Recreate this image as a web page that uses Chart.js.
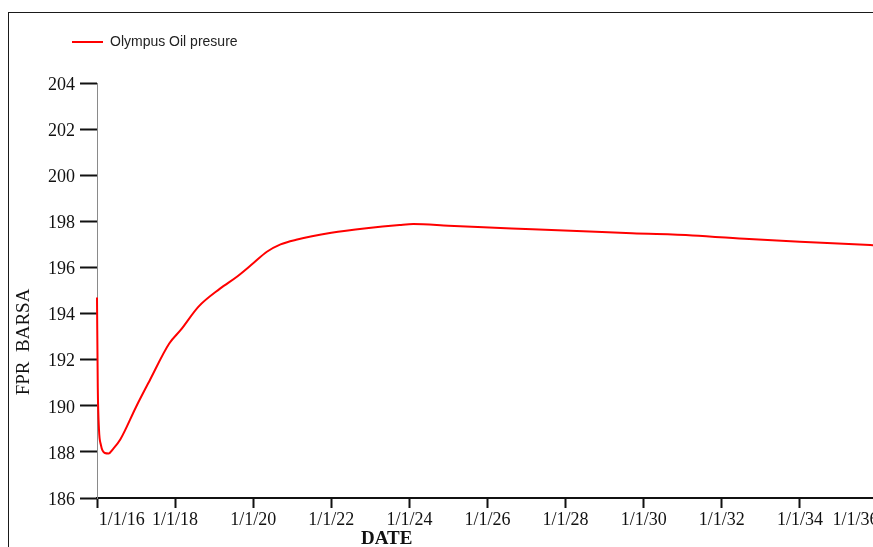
<!DOCTYPE html>
<html>
<head>
<meta charset="utf-8">
<title>Olympus Oil presure</title>
<script src="https://cdn.jsdelivr.net/npm/chart.js@4.4.1/dist/chart.umd.min.js"></script>
<style>
  html, body { margin: 0; padding: 0; background: #fff; overflow: hidden; width: 873px; height: 547px; }
  #frame { position: absolute; left: 8px; top: 12px; width: 900px; height: 600px;
           border-top: 1px solid #1a1a1a; border-left: 1px solid #1a1a1a; box-sizing: border-box; }
  #chart { position: absolute; left: 0; top: 0; }
</style>
</head>
<body>
<div id="frame"></div>
<canvas id="chart" width="890" height="560"></canvas>
<script>
// Field pressure over time (decimal years) for the Olympus oil case
const seriesName = 'Olympus Oil presure';
const years = [2016.00, 2016.02, 2016.05, 2016.10, 2016.20, 2016.30, 2016.40, 2016.60,
               2017.00, 2017.35, 2017.85, 2018.15, 2018.60, 2019.15, 2019.60, 2020.00,
               2020.35, 2020.70, 2021.10, 2022.00, 2022.90, 2023.75, 2024.10, 2025.00,
               2025.90, 2027.15, 2028.45, 2029.70, 2031.25, 2032.70, 2034.00, 2035.80, 2036.00];
const pressure = [194.70, 190.80, 189.00, 188.30, 187.95, 187.93, 188.10, 188.55,
                  189.95, 191.10, 192.70, 193.30, 194.30, 195.08, 195.62, 196.18,
                  196.68, 197.00, 197.20, 197.50, 197.70, 197.84, 197.88, 197.81,
                  197.74, 197.66, 197.57, 197.48, 197.39, 197.23, 197.11, 196.97, 196.95];

const xTickYears = [2016, 2018, 2020, 2022, 2024, 2026, 2028, 2030, 2032, 2034, 2036];
const xTickLabels = ['1/1/16', '1/1/18', '1/1/20', '1/1/22', '1/1/24', '1/1/26',
                     '1/1/28', '1/1/30', '1/1/32', '1/1/34', '1/1/36'];
const yTickValues = [186, 188, 190, 192, 194, 196, 198, 200, 202, 204];

const xTitle = 'DATE';
const yTitle = 'FPR  BARSA';

// Axis captions placed along the plot edges
const axisCaptions = {
  id: 'axisCaptions',
  afterDraw(chart) {
    const { ctx, chartArea: a } = chart;
    ctx.save();
    ctx.fillStyle = '#111';
    ctx.textAlign = 'center';
    ctx.textBaseline = 'middle';
    ctx.font = 'bold 19px "Liberation Serif"';
    ctx.fillText(xTitle, a.left + (a.right - a.left) * 0.371, a.bottom + 41);
    ctx.translate(a.left - 72.5, a.top + (a.bottom - a.top) * 0.624);
    ctx.rotate(-Math.PI / 2);
    ctx.font = '19px "Liberation Serif"';
    ctx.fillText(yTitle, 0, 0);
    ctx.restore();
  }
};

// Extra space between the legend row and the plot
const legendGap = {
  id: 'legendGap',
  beforeInit(chart) {
    const fit = chart.legend.fit;
    chart.legend.fit = function () {
      fit.call(this);
      this.height += 24;
    };
  }
};

const tickFont = { family: 'Liberation Serif', size: 18 };

new Chart(document.getElementById('chart'), {
  type: 'line',
  data: {
    datasets: [{
      label: seriesName,
      data: years.map((x, i) => ({ x, y: pressure[i] })),
      borderColor: '#ff0000',
      backgroundColor: '#ff0000',
      borderWidth: 2,
      pointRadius: 0,
      cubicInterpolationMode: 'monotone',
      fill: false,
      clip: false
    }]
  },
  options: {
    responsive: false,
    animation: false,
    devicePixelRatio: 1,
    layout: { padding: { left: 40, top: 3, right: 12, bottom: 0 } },
    plugins: {
      legend: {
        position: 'top',
        align: 'start',
        labels: {
          usePointStyle: true,
          pointStyle: 'line',
          pointStyleWidth: 31,
          padding: 32,
          color: '#222',
          font: { family: 'Liberation Sans', size: 14 }
        }
      },
      tooltip: { enabled: false }
    },
    scales: {
      x: {
        type: 'linear',
        min: xTickYears[0],
        max: xTickYears[xTickYears.length - 1],
        afterBuildTicks: s => { s.ticks = xTickYears.map(v => ({ value: v })); },
        afterFit: s => { s.paddingLeft = 0; s.paddingRight = 0; s.height = 62; },
        ticks: {
          autoSkip: false,
          maxRotation: 0,
          minRotation: 0,
          padding: 1,
          color: '#111',
          font: tickFont,
          callback: (v, i, all) => {
            const label = xTickLabels[xTickYears.indexOf(v)];
            // end labels are kept inside the axis span
            if (i === 0) return ' '.repeat(11) + label;
            if (i === all.length - 1) return label + ' '.repeat(10);
            return label;
          }
        },
        grid: { drawOnChartArea: false, tickLength: 10, tickWidth: 2, tickColor: '#111' },
        border: { color: '#111', width: 2 }
      },
      y: {
        min: yTickValues[0],
        max: yTickValues[yTickValues.length - 1],
        afterBuildTicks: s => { s.ticks = yTickValues.map(v => ({ value: v })); },
        afterFit: s => { s.width = 57; },
        ticks: {
          padding: 5,
          labelOffset: 2,
          color: '#111',
          font: tickFont
        },
        grid: { drawOnChartArea: false, tickLength: 17, tickWidth: 2, tickColor: '#111' },
        border: { color: '#8a8a8a', width: 1 }
      }
    }
  },
  plugins: [legendGap, axisCaptions]
});
</script>
</body>
</html>
